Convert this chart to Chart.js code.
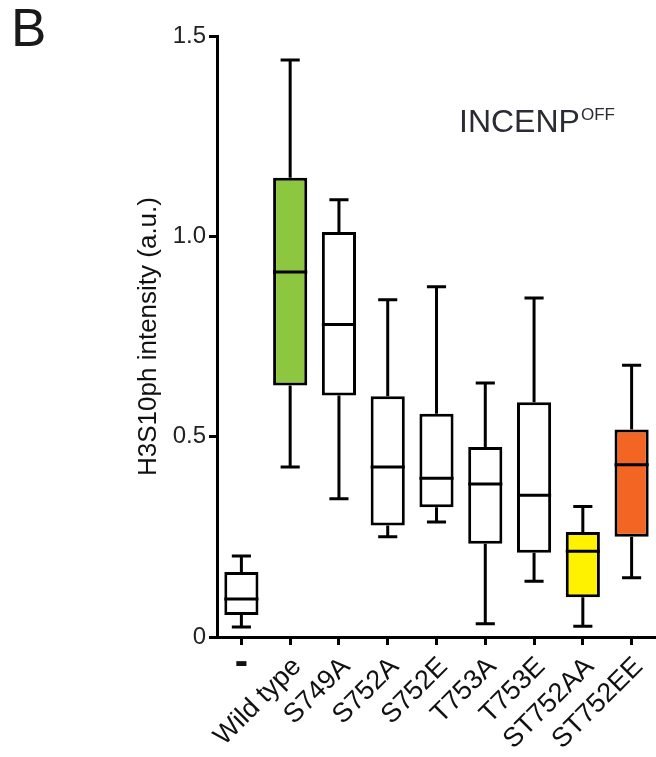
<!DOCTYPE html>
<html lang="en">
<head>
    <meta charset="UTF-8">
    <title>H3S10ph intensity</title>
    <script src="https://cdn.jsdelivr.net/npm/chart.js"></script>
    <style>
        body { margin: 0; background: #fff; }
        .grafico { width: 656px; height: 757px; }
    </style>
</head>
<body>
    <div class="grafico">
        <canvas id="boxChart"></canvas>
    </div>
<script>
    // categories and box values
    var categorias = ['-', 'Wild type', 'S749A', 'S752A', 'S752E', 'T753A', 'T753E', 'ST752AA', 'ST752EE']
    var minimos  = [0.025, 0.424, 0.345, 0.250, 0.287, 0.033, 0.139, 0.027, 0.148]
    var q1       = [0.055, 0.628, 0.603, 0.278, 0.324, 0.233, 0.210, 0.099, 0.250]
    var medianas = [0.095, 0.911, 0.780, 0.424, 0.396, 0.382, 0.354, 0.214, 0.430]
    var q3       = [0.162, 1.146, 1.011, 0.601, 0.557, 0.474, 0.586, 0.262, 0.518]
    var maximos  = [0.202, 1.440, 1.091, 0.842, 0.874, 0.634, 0.846, 0.326, 0.678]
    var cores    = ['#ffffff', '#8dc63f', '#ffffff', '#ffffff', '#ffffff', '#ffffff', '#ffffff', '#fff200', '#f26522']
    var ticksY   = [0, 0.5, 1.0, 1.5]

    var tituloY = 'H3S10ph intensity (a.u.)'
    var letraPainel = 'B'
    var rotulo = 'INCENP'
    var rotuloSup = 'OFF'

    var fonte = "'Liberation Sans', Arial, Helvetica, sans-serif"

    // whiskers, caps, medians and the extra text
    var desenhoBox = {
        id: 'desenhoBox',
        afterDatasetsDraw(chart) {
            var ctx = chart.ctx
            var y = chart.scales.y
            var meta = chart.getDatasetMeta(0)
            ctx.save()
            ctx.strokeStyle = '#000'
            ctx.lineWidth = 3
            ctx.lineCap = 'butt'
            meta.data.forEach((barra, i) => {
                var x = barra.x
                var w = barra.width
                var cap = w * 0.28
                ctx.beginPath()
                ctx.moveTo(x, y.getPixelForValue(q3[i]))
                ctx.lineTo(x, y.getPixelForValue(maximos[i]))
                ctx.moveTo(x - cap, y.getPixelForValue(maximos[i]))
                ctx.lineTo(x + cap, y.getPixelForValue(maximos[i]))
                ctx.moveTo(x, y.getPixelForValue(q1[i]))
                ctx.lineTo(x, y.getPixelForValue(minimos[i]))
                ctx.moveTo(x - cap, y.getPixelForValue(minimos[i]))
                ctx.lineTo(x + cap, y.getPixelForValue(minimos[i]))
                ctx.moveTo(x - w / 2, y.getPixelForValue(medianas[i]))
                ctx.lineTo(x + w / 2, y.getPixelForValue(medianas[i]))
                ctx.stroke()
            })
            ctx.restore()
        },
        afterDraw(chart) {
            var ctx = chart.ctx
            var xs = chart.scales.x
            var area = chart.chartArea
            ctx.save()
            ctx.fillStyle = '#111'
            // the "-" category label is drawn flat
            ctx.font = 'bold 40px ' + fonte
            ctx.textAlign = 'center'
            ctx.textBaseline = 'middle'
            ctx.fillText(categorias[0], xs.getPixelForValue(0), area.bottom + 26)

            ctx.font = '53px ' + fonte
            ctx.textAlign = 'left'
            ctx.textBaseline = 'top'
            ctx.fillStyle = '#1a1a1a'
            ctx.fillText(letraPainel, 11, 5)

            ctx.fillStyle = '#2b2b36'
            ctx.font = '32px ' + fonte
            ctx.textBaseline = 'alphabetic'
            ctx.fillText(rotulo, 459, 132)
            var larg = ctx.measureText(rotulo).width
            ctx.font = '17px ' + fonte
            ctx.fillText(rotuloSup, 459 + larg + 1, 120)
            ctx.restore()
        }
    }

    var dadosBox = categorias.map((c, i) => [q1[i], q3[i]])

    new Chart(document.getElementById('boxChart'), {
        type: 'bar',
        data: {
            labels: categorias,
            datasets: [{
                data: dadosBox,
                backgroundColor: cores,
                borderColor: '#000',
                borderWidth: 3,
                borderSkipped: false,
                categoryPercentage: 1,
                barPercentage: 0.7
            }]
        },
        options: {
            responsive: true,
            maintainAspectRatio: false,
            animation: false,
            layout: { padding: { top: 36, right: 0, left: 133, bottom: 0 } },
            plugins: {
                legend: { display: false },
                tooltip: { enabled: false }
            },
            scales: {
                x: {
                    offset: true,
                    grid: {
                        offset: false,
                        drawOnChartArea: false,
                        drawTicks: true,
                        tickLength: 8,
                        color: '#000',
                        lineWidth: 3
                    },
                    border: { color: '#000', width: 3 },
                    ticks: {
                        color: '#111',
                        font: { family: fonte, size: 27 },
                        maxRotation: 45,
                        minRotation: 45,
                        padding: 6,
                        labelOffset: 7,
                        autoSkip: false,
                        callback: function (v, i) { return i == 0 ? '' : categorias[i] }
                    },
                    afterFit: function (s) {
                        s.height = 120
                        s.paddingLeft = 0
                        s.paddingRight = 0
                    }
                },
                y: {
                    min: 0,
                    max: 1.5,
                    afterBuildTicks: function (s) { s.ticks = ticksY.map(v => ({ value: v })) },
                    grid: {
                        drawOnChartArea: false,
                        drawTicks: true,
                        tickLength: 8,
                        color: '#000',
                        lineWidth: 3
                    },
                    border: { color: '#000', width: 3 },
                    ticks: {
                        color: '#222',
                        font: { family: fonte, size: 24 },
                        padding: 3,
                        callback: function (v) { return v == 0 ? '0' : v.toFixed(1) }
                    },
                    title: {
                        display: true,
                        text: tituloY,
                        color: '#111',
                        font: { family: fonte, size: 26 },
                        padding: { top: 0, bottom: 0 }
                    },
                    afterFit: function (s) { s.width = 84 }
                }
            }
        },
        plugins: [desenhoBox]
    });
</script>
</body>
</html>
